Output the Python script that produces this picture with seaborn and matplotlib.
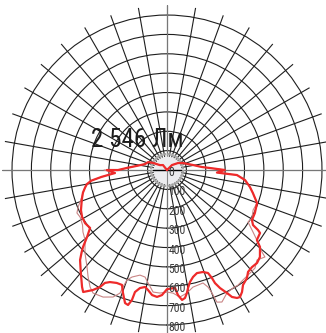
import numpy as np
import matplotlib
matplotlib.use('Agg')
import matplotlib.pyplot as plt
import matplotlib.transforms as mtransforms
from matplotlib import font_manager
import seaborn as sns

sns.set_style('white')

# narrow fonts first, the reference uses a condensed face
installed = {f.name for f in font_manager.fontManager.ttflist}
narrow = [n for n in ['Roboto Condensed', 'Liberation Sans Narrow', 'Open Sans Condensed',
                      'Noto Sans Condensed'] if n in installed]
base_font = narrow[0] if narrow else 'Noto Sans'
plt.rcParams['font.family'] = [base_font, 'Noto Sans', 'DejaVu Sans']
title_size = 18 if narrow else 16
label_size = 8.5 if narrow else 7.5

# light distribution curve, angle from nadir (deg) and intensity (cd)
# thick line: C0-C180 plane
c0_angle = [-180, -141, -125, -117, -113, -105, -98, -93, -90, -90, -86.7, -84, -82, -80,
            -78, -75, -71, -65, -61, -57, -53, -50, -47.5, -46, -44, -40, -36, -34.5,
            -31.7, -29.8, -28.8, -27, -24, -21.4, -19.7, -17.5, -16.1, -15.1, -14.7,
            -12.9, -10.6, -9, -6.8, -4.5, -2.3, 0, 3.9, 5, 6.6, 8, 9.2, 10.1, 11.6,
            13.7, 16.2, 19.4, 21.7, 22.6, 23, 24.2, 26, 27.1, 28.7, 29.9, 31.6, 33.5,
            36.5, 38.5, 41.2, 44.1, 46.9, 50.4, 52.1, 55.9, 56.6, 57.4, 59.5, 63.9,
            69.9, 75, 78.4, 82.7, 85.9, 87.1, 90, 92.7, 94.9, 100.9, 113.6, 122.5, 135, 180]
c0_cd = [0, 33, 44, 80, 105, 118, 156, 207, 253, 310, 269, 340, 395, 420,
         432, 449, 465, 490, 501, 504, 497, 539, 588, 613, 646, 692, 746, 764,
         728, 696, 665, 649, 638, 637, 674, 720, 725, 695, 651,
         625, 614, 627, 650, 657, 646, 615, 610, 648, 675, 667, 643, 619, 590,
         568, 554, 558, 572, 604, 634, 668, 706, 736, 753, 756, 739, 711,
         694, 672, 666, 668, 657, 623, 588, 580, 563, 527, 509, 505,
         495, 459, 437, 406, 362, 258, 299, 222, 181, 137, 90, 67, 36, 0]

# thin line: C90-C270 plane
c90_angle = [-180, -141, -125, -117, -113, -105, -98, -93, -90, -90, -86.7, -84, -82, -80,
             -78, -75, -71, -67.4, -64.5, -61.6, -57, -53.6, -49.5, -44.7, -39.5, -36.4,
             -33.3, -31, -26.7, -23, -20.9, -20.6, -20, -18.1, -14.4, -11.6, -9.5, -6.5,
             -3.3, 0, 2.8, 5.8, 9.2, 12.5, 15.1, 17.7, 19.3, 20.1, 20.7, 22.6, 26, 29.2,
             31.7, 34.6, 38.9, 41.9, 45, 48.4, 49.2, 52.1, 54.8, 57.3, 60.5, 65.1, 69.9,
             75, 78.4, 82.7, 85.9, 87.1, 90, 92.7, 94.9, 100.9, 113.6, 122.5, 135, 180]
c90_cd = [0, 33, 44, 80, 105, 118, 156, 207, 253, 325, 269, 340, 395, 420,
          432, 449, 470, 497, 515, 510, 520, 539, 556, 602, 649, 686,
          723, 741, 734, 712, 680, 645, 604, 581, 560, 564, 591, 634,
          636, 630, 636, 659, 643, 619, 615, 612, 640, 676, 729, 738, 706, 698,
          698, 690, 683, 680, 657, 676, 648, 588, 537, 497, 504, 490, 495,
          459, 437, 406, 362, 258, 299, 222, 181, 137, 90, 67, 36, 0]

ring_values = [100, 200, 300, 400, 500, 600, 700, 800]
ring_labels = ['0', '100', '200', '300', '400', '500', '600', '700', '800']
label_values = [0, 100, 200, 300, 400, 500, 600, 700, 800]
flux_label = '2 546 Лм'

r_max = 850
hub_r = 72

fig = plt.figure(figsize=(3.26, 3.33), dpi=100)
ax = fig.add_axes([0.00706, -0.0051, 1.0104, 0.989], projection='polar')
ax.set_theta_zero_location('S')
ax.set_theta_direction(1)
ax.set_rlim(0, r_max)
ax.set_rgrids(ring_values, labels=[''] * len(ring_values))
ax.set_thetagrids(np.arange(0, 360, 10), labels=[''] * 36)
ax.grid(True, color='#1e1e1e', linewidth=0.8)
ax.spines['polar'].set_visible(False)
ax.patch.set_alpha(0)

# main axes drawn in grey, full length
for a in [0, 90, 180, 270]:
    ax.plot([np.deg2rad(a)] * 2, [0, r_max], color='#777777', lw=0.8, zorder=2)

# hub in the middle
t = np.linspace(0, 2 * np.pi, 200)
ax.fill_between(t, 0, hub_r, color='#ececef', zorder=2.5, lw=0)
for a in np.arange(0, 360, 5):
    ax.plot([np.deg2rad(a)] * 2, [hub_r + 4, hub_r + 16], color='#a8a8a8', lw=0.9,
            zorder=2.6, solid_capstyle='butt')
ax.plot([np.deg2rad(90)] * 2, [0, hub_r], color='black', lw=1.0, zorder=2.7)
ax.plot([np.deg2rad(270)] * 2, [0, hub_r], color='black', lw=1.0, zorder=2.7)
ax.plot([np.deg2rad(0)] * 2, [0, hub_r], color='#888888', lw=0.8, zorder=2.7)

sns.lineplot(x=np.deg2rad(c90_angle), y=c90_cd, ax=ax, sort=False, estimator=None,
             color='#c98585', linewidth=0.8, zorder=4)
sns.lineplot(x=np.deg2rad(c0_angle), y=c0_cd, ax=ax, sort=False, estimator=None,
             color='#ee2a2a', linewidth=1.6, zorder=5)
ax.set_xlabel('')
ax.set_ylabel('')

shift = mtransforms.offset_copy(ax.transData, fig=fig, x=1.5, y=0, units='dots')
for v, s in zip(label_values, ring_labels):
    ax.text(0, v + 13, s, transform=shift, ha='left', va='center',
            fontsize=label_size, color='#3c3c3c', zorder=6)

fig.text(0.4218, 0.5586, flux_label, ha='center', va='baseline',
         fontsize=title_size, color='#1c1c1c')

fig.savefig('out.png', dpi=100)
